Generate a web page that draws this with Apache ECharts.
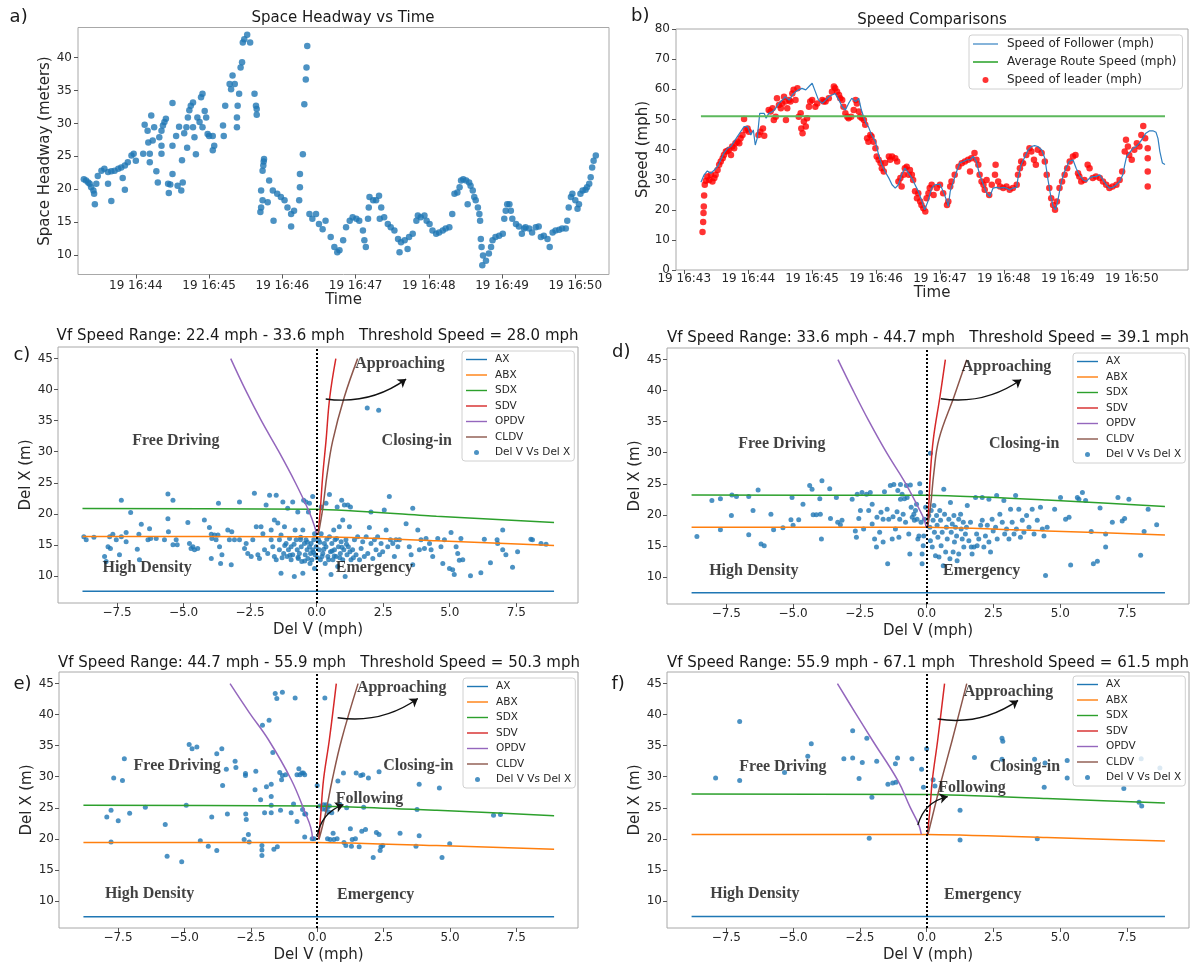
<!DOCTYPE html>
<html><head><meta charset="utf-8">
<script src="https://cdn.jsdelivr.net/npm/echarts@6/dist/echarts.min.js"></script>
<style>html,body{margin:0;padding:0;background:#fff}#chart{width:1198px;height:965px}</style>
</head><body><div id="chart"></div>
<script>
// ---------------- DATA ----------------
// Panel a: [minutes after 16:43, space headway (m)]
const aPts = [[0.29,21.5],[0.32,21.3],[0.35,21.0],[0.37,20.8],[0.39,20.3],[0.42,19.8],[0.43,19.3],[0.44,17.7],[0.46,20.8],[0.48,22.0],[0.53,22.8],[0.57,23.1],[0.62,20.8],[0.62,22.6],[0.665,22.7],[0.665,18.2],[0.71,22.8],[0.76,23.1],[0.80,23.3],[0.82,21.7],[0.85,19.9],[0.85,23.6],[0.89,24.1],[0.94,25.1],[0.97,25.4],[1.00,24.3],[1.10,25.4],[1.12,29.8],[1.16,28.9],[1.17,27.1],[1.19,25.4],[1.19,24.1],[1.21,31.2],[1.23,27.4],[1.25,29.4],[1.28,22.7],[1.30,21.0],[1.32,27.9],[1.35,26.6],[1.35,25.4],[1.35,28.9],[1.37,29.7],[1.39,30.2],[1.41,30.7],[1.44,20.8],[1.45,19.4],[1.47,20.7],[1.50,33.1],[1.50,26.6],[1.50,22.3],[1.55,28.1],[1.57,20.5],[1.59,29.5],[1.62,19.8],[1.63,24.4],[1.64,21.0],[1.66,28.5],[1.69,29.4],[1.70,26.3],[1.71,30.9],[1.73,32.0],[1.75,32.7],[1.78,33.2],[1.78,29.4],[1.80,27.9],[1.82,25.3],[1.84,30.9],[1.87,30.2],[1.89,34.0],[1.91,34.5],[1.91,29.4],[1.94,31.9],[1.96,30.9],[1.98,28.4],[2.00,28.1],[2.05,28.1],[2.05,25.9],[2.07,26.6],[2.19,29.7],[2.20,28.1],[2.22,32.7],[2.28,36.0],[2.30,35.2],[2.32,37.3],[2.35,36.0],[2.38,29.4],[2.38,30.9],[2.39,32.7],[2.41,34.5],[2.43,38.5],[2.45,39.3],[2.46,42.3],[2.48,42.8],[2.52,43.5],[2.56,42.3],[2.62,34.5],[2.64,32.7],[2.65,32.2],[2.65,31.3],[2.70,16.5],[2.71,17.2],[2.71,19.8],[2.73,22.8],[2.73,18.3],[2.74,23.6],[2.745,24.2],[2.75,24.6],[2.80,18.0],[2.82,21.3],[2.87,19.8],[2.88,15.2],[2.93,19.3],[2.98,18.8],[3.03,18.3],[3.07,17.2],[3.12,16.2],[3.12,14.3],[3.16,16.7],[3.23,18.3],[3.24,20.3],[3.24,22.3],[3.28,25.3],[3.30,32.9],[3.32,36.7],[3.33,38.5],[3.34,41.8],[3.37,16.2],[3.41,15.5],[3.46,16.2],[3.50,14.7],[3.55,13.9],[3.59,15.2],[3.66,12.7],[3.71,11.2],[3.75,10.4],[3.78,10.7],[3.83,12.2],[3.87,14.2],[3.92,15.2],[3.96,15.7],[4.01,15.5],[4.05,15.2],[4.10,13.7],[4.12,12.2],[4.14,11.2],[4.17,15.5],[4.18,17.2],[4.19,18.8],[4.24,18.3],[4.28,18.3],[4.32,19.0],[4.35,17.2],[4.33,15.5],[4.39,15.7],[4.44,14.7],[4.48,14.2],[4.53,13.7],[4.58,12.4],[4.62,11.9],[4.60,10.4],[4.67,12.2],[4.71,10.9],[4.73,12.7],[4.78,13.2],[4.83,15.2],[4.85,16.0],[4.89,15.7],[4.94,16.0],[4.97,15.2],[5.01,14.7],[5.05,13.7],[5.10,13.2],[5.14,13.4],[5.19,13.7],[5.23,14.0],[5.28,14.2],[5.32,16.2],[5.35,19.3],[5.39,19.5],[5.42,20.3],[5.44,21.3],[5.47,21.5],[5.51,21.3],[5.53,17.7],[5.55,21.0],[5.57,20.5],[5.60,19.8],[5.62,18.8],[5.64,18.3],[5.67,17.2],[5.69,16.2],[5.70,15.2],[5.71,12.4],[5.72,11.2],[5.74,9.9],[5.73,8.4],[5.78,9.1],[5.82,10.2],[5.85,11.2],[5.87,12.2],[5.91,12.7],[5.96,12.9],[6.01,13.2],[6.03,15.5],[6.05,16.7],[6.07,17.7],[6.10,17.7],[6.12,16.7],[6.14,15.5],[6.19,14.7],[6.23,14.3],[6.27,13.2],[6.30,14.0],[6.32,14.2],[6.37,14.0],[6.41,13.4],[6.46,14.2],[6.50,14.3],[6.53,12.7],[6.57,12.9],[6.62,12.4],[6.65,11.2],[6.69,13.4],[6.73,13.7],[6.78,13.8],[6.82,14.0],[6.87,14.0],[6.89,15.2],[6.91,17.2],[6.94,18.8],[6.96,19.3],[7.00,18.3],[7.03,17.0],[7.05,17.7],[7.07,19.3],[7.10,19.8],[7.14,19.9],[7.16,20.3],[7.19,20.8],[7.21,21.8],[7.23,23.3],[7.25,24.3],[7.28,25.1]];
const aXTicks = [1,2,3,4,5,6,7];
const aXTickLabels = ['19 16:44','19 16:45','19 16:46','19 16:47','19 16:48','19 16:49','19 16:50'];
const aYTicks = [10,15,20,25,30,35,40];

// Panel b: [minutes after 16:43, speed (mph)]
const bFollow = [[0.26,29.1],[0.31,31.6],[0.36,32.9],[0.415,32.1],[0.47,33.2],[0.52,34.3],[0.57,36.5],[0.62,38.8],[0.675,40.4],[0.73,41.0],[0.78,42.6],[0.83,44.3],[0.88,45.9],[0.935,47.6],[0.99,47.6],[1.04,44.8],[1.08,46.5],[1.11,41.5],[1.14,43.7],[1.18,52.0],[1.25,52.0],[1.28,50.4],[1.32,52.0],[1.38,52.6],[1.43,53.7],[1.48,55.3],[1.53,56.4],[1.58,57.5],[1.64,56.4],[1.69,58.1],[1.74,59.2],[1.79,59.8],[1.84,60.3],[1.90,59.8],[1.95,60.9],[2.00,62.0],[2.05,59.2],[2.10,56.4],[2.16,55.3],[2.21,56.4],[2.26,57.5],[2.31,58.1],[2.36,58.6],[2.42,56.4],[2.47,54.2],[2.52,53.1],[2.57,55.3],[2.62,57.0],[2.68,55.9],[2.73,57.0],[2.77,53.1],[2.80,53.7],[2.84,48.7],[2.88,47.6],[2.93,44.8],[2.99,42.6],[3.04,38.2],[3.09,34.9],[3.14,32.7],[3.20,30.5],[3.25,28.3],[3.30,27.2],[3.35,28.3],[3.40,31.6],[3.45,33.8],[3.51,32.1],[3.56,30.5],[3.61,28.3],[3.66,26.1],[3.71,23.3],[3.76,20.0],[3.81,22.7],[3.87,27.2],[3.92,28.3],[3.95,27.7],[4.00,28.5],[4.05,26.1],[4.11,22.7],[4.13,21.1],[4.16,26.1],[4.21,29.4],[4.26,32.7],[4.31,35.5],[4.37,36.0],[4.42,36.6],[4.47,36.6],[4.52,37.7],[4.57,36.0],[4.62,31.6],[4.68,28.3],[4.73,25.5],[4.78,24.4],[4.83,27.2],[4.88,27.4],[4.94,27.2],[4.99,27.4],[5.04,27.2],[5.09,26.6],[5.14,27.2],[5.20,27.4],[5.22,30.5],[5.27,34.9],[5.33,37.7],[5.38,39.9],[5.43,41.0],[5.48,41.3],[5.53,41.0],[5.59,39.9],[5.64,37.1],[5.69,29.9],[5.73,24.9],[5.77,21.1],[5.81,20.0],[5.85,23.8],[5.90,29.4],[5.95,32.7],[6.02,36.0],[6.08,36.6],[6.13,33.8],[6.18,31.6],[6.24,29.9],[6.29,29.4],[6.34,30.5],[6.39,31.0],[6.44,31.0],[6.50,31.6],[6.55,29.9],[6.60,28.3],[6.65,27.2],[6.70,27.4],[6.76,28.3],[6.81,29.4],[6.86,31.6],[6.89,34.9],[6.92,37.7],[6.96,38.8],[7.02,40.4],[7.07,41.0],[7.12,42.1],[7.17,43.7],[7.22,45.4],[7.28,46.2],[7.33,46.2],[7.38,45.7],[7.41,43.7],[7.44,39.3],[7.48,35.5],[7.52,35.0]];
const bLeader = [[0.285,12.6],[0.295,15.9],[0.30,18.9],[0.305,21.1],[0.31,24.7],[0.32,28.3],[0.337,29.6],[0.36,31.0],[0.39,29.9],[0.415,31.6],[0.44,29.4],[0.47,30.5],[0.49,31.6],[0.52,33.2],[0.545,34.9],[0.57,36.0],[0.60,37.1],[0.62,38.2],[0.65,39.3],[0.675,39.5],[0.70,39.9],[0.73,38.2],[0.75,41.0],[0.78,40.4],[0.80,42.1],[0.83,42.6],[0.86,42.1],[0.88,43.7],[0.91,44.8],[0.935,50.1],[0.96,46.5],[0.99,47.0],[1.01,45.9],[1.16,44.8],[1.19,45.9],[1.23,47.0],[1.25,44.6],[1.32,53.1],[1.35,52.6],[1.38,53.7],[1.40,49.8],[1.43,50.9],[1.45,57.0],[1.48,54.8],[1.51,53.7],[1.53,55.3],[1.56,57.5],[1.58,55.9],[1.59,49.8],[1.61,53.7],[1.64,56.4],[1.66,55.9],[1.69,58.6],[1.71,59.8],[1.74,56.4],[1.77,60.3],[1.79,50.9],[1.82,52.0],[1.83,47.0],[1.85,45.4],[1.87,49.3],[1.90,47.6],[1.92,50.4],[1.95,54.2],[1.97,55.9],[2.00,56.4],[2.05,54.2],[2.08,55.3],[2.16,56.4],[2.18,55.9],[2.21,55.9],[2.26,57.0],[2.31,59.2],[2.34,60.9],[2.36,60.3],[2.39,59.2],[2.42,58.1],[2.44,57.0],[2.47,56.4],[2.49,54.2],[2.52,52.0],[2.55,50.9],[2.57,50.4],[2.61,50.9],[2.65,53.1],[2.68,56.4],[2.70,55.3],[2.73,52.6],[2.75,50.9],[2.78,50.4],[2.81,49.8],[2.83,48.2],[2.86,43.7],[2.88,42.6],[2.91,44.8],[2.93,44.3],[2.96,42.6],[2.99,40.4],[3.01,37.7],[3.04,36.6],[3.07,35.5],[3.09,33.8],[3.12,32.7],[3.14,35.5],[3.20,37.7],[3.22,36.6],[3.25,37.7],[3.30,37.1],[3.33,36.0],[3.35,29.4],[3.38,30.5],[3.40,27.7],[3.43,31.6],[3.45,33.8],[3.48,34.3],[3.51,31.6],[3.53,33.2],[3.56,31.6],[3.58,29.9],[3.61,26.1],[3.64,23.8],[3.66,25.5],[3.69,22.7],[3.71,21.6],[3.74,20.5],[3.77,19.4],[3.79,23.8],[3.82,25.5],[3.84,27.2],[3.87,28.3],[3.90,24.9],[3.95,27.2],[4.00,28.3],[4.05,25.5],[4.11,21.6],[4.13,22.7],[4.16,27.7],[4.18,29.4],[4.23,31.6],[4.29,34.3],[4.34,35.4],[4.39,36.0],[4.44,36.6],[4.47,32.7],[4.49,37.1],[4.54,38.8],[4.57,36.6],[4.60,34.9],[4.62,31.6],[4.65,29.4],[4.68,28.3],[4.70,26.6],[4.73,29.9],[4.77,24.9],[4.81,28.3],[4.86,31.6],[4.87,34.9],[4.91,29.4],[4.94,27.7],[4.99,27.2],[5.04,27.7],[5.09,26.6],[5.14,27.2],[5.20,28.3],[5.22,31.6],[5.25,33.8],[5.27,36.0],[5.30,35.4],[5.35,38.2],[5.40,40.4],[5.43,39.3],[5.47,36.6],[5.50,34.9],[5.53,39.9],[5.59,38.8],[5.64,36.0],[5.67,31.6],[5.71,27.2],[5.74,23.8],[5.77,21.6],[5.80,20.0],[5.83,22.7],[5.87,27.2],[5.91,29.4],[5.95,31.6],[5.99,33.8],[6.03,36.0],[6.08,37.7],[6.12,38.2],[6.16,32.1],[6.18,31.0],[6.21,29.4],[6.26,29.9],[6.31,34.9],[6.34,33.8],[6.39,30.5],[6.44,31.0],[6.50,30.5],[6.55,29.4],[6.60,28.3],[6.65,27.2],[6.70,27.7],[6.76,28.3],[6.81,29.9],[6.85,32.7],[6.89,39.3],[6.91,43.2],[6.94,41.0],[6.96,38.2],[7.00,36.6],[7.04,39.9],[7.08,42.1],[7.12,41.0],[7.15,44.8],[7.18,47.8],[7.21,43.7],[7.25,40.4],[7.25,37.1],[7.25,32.7],[7.25,27.7]];
const bAvg = [[0.26,51.0],[7.52,51.0]];
const bXTicks = [0,1,2,3,4,5,6,7];
const bXTickLabels = ['19 16:43','19 16:44','19 16:45','19 16:46','19 16:47','19 16:48','19 16:49','19 16:50'];

// Panels c-f: Del V (mph) vs Del X (m)
const cPts = [[-8.75,16.3],[-8.66,15.8],[-8.37,16.2],[-7.97,13.1],[-7.91,12.3],[-7.78,16.3],[-7.84,14.7],[-7.75,14.4],[-7.66,16.7],[-7.53,15.8],[-7.41,13.4],[-7.34,22.2],[-7.34,16.3],[-7.16,17.0],[-7.16,15.5],[-6.99,20.2],[-6.74,14.3],[-6.68,16.7],[-6.66,12.6],[-6.59,18.3],[-6.34,15.8],[-6.28,17.6],[-6.24,16.0],[-6.03,16.0],[-5.72,15.8],[-5.59,23.2],[-5.59,19.2],[-5.57,17.1],[-5.40,22.2],[-5.40,15.0],[-5.28,15.8],[-5.24,15.0],[-4.84,18.6],[-4.78,15.2],[-4.72,14.4],[-4.65,14.7],[-4.59,14.2],[-4.47,14.4],[-4.22,19.0],[-4.03,17.8],[-3.96,16.7],[-3.94,16.0],[-3.96,12.8],[-3.84,16.6],[-3.78,15.8],[-3.71,16.6],[-3.69,21.7],[-3.65,14.7],[-3.61,12.0],[-3.56,13.4],[-3.34,17.4],[-3.28,15.8],[-3.21,11.8],[-3.19,17.1],[-3.09,15.8],[-2.90,21.9],[-2.90,15.8],[-2.71,14.4],[-2.65,15.2],[-2.59,13.6],[-2.46,13.1],[-2.40,15.8],[-2.34,23.3],[-2.27,17.9],[-2.21,13.4],[-2.15,12.8],[-2.09,17.9],[-2.02,16.8],[-1.96,14.2],[-1.90,21.4],[-1.84,13.6],[-1.77,23.0],[-1.71,17.4],[-1.71,15.8],[-1.65,14.7],[-1.59,19.0],[-1.59,13.1],[-1.52,23.0],[-1.52,12.6],[-1.46,18.5],[-1.40,15.8],[-1.40,14.2],[-1.34,10.4],[-1.34,16.6],[-1.30,12.9],[-1.27,21.9],[-1.24,13.6],[-1.21,17.9],[-1.20,14.9],[-1.15,15.2],[-1.11,13.1],[-1.09,20.9],[-1.06,14.2],[-1.02,16.0],[-1.00,13.3],[-0.96,12.6],[-0.96,14.7],[-0.90,21.9],[-0.90,13.4],[-0.85,15.1],[-0.84,9.9],[-0.81,17.4],[-0.77,15.8],[-0.73,14.2],[-0.71,20.3],[-0.70,13.0],[-0.69,12.8],[-0.65,13.6],[-0.61,15.8],[-0.60,16.2],[-0.58,14.7],[-0.56,12.3],[-0.52,10.4],[-0.52,17.4],[-0.49,22.2],[-0.46,15.2],[-0.45,12.4],[-0.43,13.4],[-0.40,21.9],[-0.40,15.8],[-0.36,14.2],[-0.35,15.4],[-0.33,12.8],[-0.31,20.3],[-0.27,21.7],[-0.27,14.7],[-0.25,12.0],[-0.23,13.6],[-0.21,15.2],[-0.18,12.6],[-0.15,22.8],[-0.15,14.2],[-0.12,13.8],[-0.11,15.8],[-0.08,11.2],[-0.08,16.8],[-0.06,13.4],[-0.02,14.7],[0.02,12.9],[0.07,15.8],[0.10,14.2],[0.12,15.4],[0.14,12.6],[0.17,21.1],[0.17,16.8],[0.20,13.1],[0.23,13.6],[0.27,14.3],[0.29,15.2],[0.32,12.0],[0.35,21.7],[0.35,14.7],[0.38,15.9],[0.42,13.1],[0.45,12.6],[0.48,23.1],[0.48,16.3],[0.52,13.9],[0.54,10.2],[0.57,15.2],[0.58,14.0],[0.61,12.6],[0.64,17.4],[0.66,13.2],[0.67,14.2],[0.69,15.8],[0.73,13.1],[0.75,16.0],[0.77,21.1],[0.79,11.5],[0.82,14.7],[0.85,17.9],[0.87,12.9],[0.89,13.6],[0.92,15.5],[0.94,22.2],[0.95,14.6],[0.98,19.0],[0.98,12.6],[1.02,14.2],[1.04,21.4],[1.07,9.9],[1.10,15.8],[1.12,15.1],[1.14,13.4],[1.17,21.4],[1.19,14.7],[1.23,17.9],[1.25,13.9],[1.27,21.1],[1.29,12.6],[1.35,14.2],[1.38,12.9],[1.42,15.8],[1.48,13.4],[1.54,16.3],[1.61,12.6],[1.67,14.4],[1.73,15.5],[1.79,13.1],[1.86,16.3],[1.90,37.05],[1.92,13.6],[1.98,17.8],[2.04,20.3],[2.04,15.2],[2.11,12.8],[2.17,15.8],[2.23,14.2],[2.29,16.3],[2.33,36.7],[2.36,13.4],[2.42,15.2],[2.48,13.9],[2.54,20.6],[2.61,17.4],[2.67,14.7],[2.73,22.8],[2.77,15.8],[2.86,15.2],[2.92,13.1],[2.98,15.8],[3.05,14.7],[3.11,15.8],[3.36,18.4],[3.48,14.7],[3.55,13.4],[3.61,11.8],[3.61,20.9],[3.80,17.4],[3.86,14.2],[3.92,15.8],[4.05,14.4],[4.11,16.0],[4.24,15.2],[4.30,14.2],[4.36,13.1],[4.55,16.0],[4.67,14.7],[4.74,12.0],[4.80,15.8],[4.99,11.2],[5.05,17.0],[5.11,11.0],[5.17,10.2],[5.24,14.7],[5.30,13.6],[5.36,12.5],[5.42,16.0],[5.49,12.6],[5.78,10.0],[6.17,10.5],[6.30,15.9],[6.53,12.1],[6.78,15.8],[6.80,15.2],[6.99,17.4],[6.99,14.2],[7.11,13.4],[7.36,11.4],[7.55,13.9],[8.05,15.9],[8.11,15.8],[8.43,15.2],[8.62,15.1]];
const dPts = [[-8.60,16.5],[-8.04,22.3],[-7.72,22.6],[-7.72,17.6],[-7.31,19.9],[-7.29,23.2],[-7.12,22.96],[-6.66,22.96],[-6.66,16.8],[-6.50,20.7],[-6.31,24.0],[-6.20,15.3],[-6.08,15.0],[-5.83,20.1],[-5.73,17.6],[-5.38,17.9],[-5.08,19.2],[-5.04,22.8],[-5.00,18.3],[-4.79,19.2],[-4.63,21.7],[-4.38,24.7],[-4.29,24.1],[-4.25,20.0],[-4.13,20.0],[-3.98,20.1],[-3.94,16.1],[-4.00,22.6],[-3.92,25.5],[-3.63,24.2],[-3.60,19.4],[-3.38,22.8],[-3.33,18.8],[-3.23,18.4],[-3.17,19.1],[-2.79,22.5],[-2.67,17.4],[-2.63,16.4],[-2.60,23.3],[-2.54,19.4],[-2.48,20.7],[-2.42,23.6],[-2.36,17.7],[-2.25,23.3],[-2.17,20.7],[-2.11,23.6],[-2.04,21.7],[-2.04,18.5],[-1.95,16.1],[-1.88,14.8],[-1.86,19.6],[-1.76,17.2],[-1.71,20.4],[-1.63,19.3],[-1.63,15.6],[-1.58,23.7],[-1.48,20.9],[-1.46,12.1],[-1.42,19.3],[-1.36,24.7],[-1.29,16.1],[-1.26,19.7],[-1.23,24.9],[-1.17,17.7],[-1.11,20.5],[-1.08,23.9],[-1.04,16.4],[-1.01,19.3],[-0.98,24.9],[-0.98,22.5],[-0.92,23.3],[-0.88,20.1],[-0.83,22.6],[-0.79,18.8],[-0.76,24.7],[-0.73,22.8],[-0.67,16.9],[-0.63,13.7],[-0.61,24.8],[-0.58,21.2],[-0.54,19.6],[-0.48,20.1],[-0.46,19.1],[-0.42,20.7],[-0.38,21.7],[-0.36,19.3],[-0.33,16.1],[-0.29,16.6],[-0.26,25.0],[-0.23,23.6],[-0.21,18.8],[-0.17,13.7],[-0.17,12.1],[-0.13,15.0],[-0.11,16.6],[-0.08,19.3],[-0.04,21.2],[0.14,29.9],[0.08,19.9],[0.12,18.0],[0.14,15.8],[0.17,20.7],[0.21,14.8],[0.24,19.1],[0.27,21.5],[0.29,17.2],[0.33,13.4],[0.37,19.9],[0.39,18.3],[0.42,16.4],[0.46,13.2],[0.49,20.7],[0.52,19.1],[0.54,15.0],[0.58,17.2],[0.62,11.8],[0.64,24.1],[0.67,20.1],[0.71,14.0],[0.74,18.0],[0.77,16.1],[0.83,19.3],[0.87,12.9],[0.89,22.0],[0.92,17.2],[0.96,18.5],[0.99,14.0],[1.02,19.9],[1.04,15.6],[1.08,18.0],[1.12,16.6],[1.14,12.6],[1.20,13.7],[1.20,19.3],[1.27,20.1],[1.29,17.7],[1.33,16.1],[1.37,18.8],[1.39,14.8],[1.45,16.9],[1.49,18.0],[1.52,21.5],[1.58,15.8],[1.64,18.8],[1.67,14.8],[1.70,13.7],[1.77,14.8],[1.83,22.8],[1.87,16.9],[1.89,15.0],[1.95,16.1],[2.02,18.3],[2.08,19.1],[2.08,22.8],[2.14,14.8],[2.20,16.6],[2.27,18.3],[2.33,22.5],[2.33,15.6],[2.39,14.0],[2.45,19.3],[2.49,17.4],[2.58,18.0],[2.62,23.1],[2.64,16.1],[2.74,20.1],[2.83,18.8],[2.89,22.3],[2.92,16.9],[2.99,17.7],[3.08,16.1],[3.14,20.9],[3.20,18.8],[3.27,16.9],[3.33,23.1],[3.36,17.7],[3.45,20.9],[3.51,16.4],[3.58,19.1],[3.64,17.2],[3.74,19.9],[3.83,18.0],[3.95,20.9],[4.02,16.9],[4.14,19.1],[4.26,21.2],[4.33,17.7],[4.39,16.6],[4.45,10.2],[4.51,18.0],[4.79,20.9],[5.01,22.8],[5.20,19.3],[5.33,19.6],[5.39,11.9],[5.64,22.8],[5.70,22.5],[5.83,23.6],[5.95,22.3],[6.16,17.3],[6.24,12.1],[6.39,12.5],[6.49,21.1],[6.70,16.9],[6.70,14.8],[6.95,18.8],[7.16,22.8],[7.32,19.0],[7.41,19.4],[7.57,22.5],[8.01,13.5],[8.14,17.3],[8.29,20.9],[8.61,18.4]];
const ePts = [[-7.92,23.5],[-7.76,24.6],[-7.76,19.5],[-7.66,29.8],[-7.49,22.9],[-7.33,29.4],[-7.26,32.9],[-7.06,24.1],[-6.47,25.1],[-5.72,22.3],[-5.65,17.2],[-5.10,16.3],[-4.93,25.4],[-4.82,35.2],[-4.71,34.5],[-4.53,34.8],[-4.40,19.7],[-4.10,18.8],[-3.97,23.5],[-3.78,33.7],[-3.78,18.1],[-3.59,34.5],[-3.56,28.6],[-3.42,31.2],[-3.38,24.0],[-3.09,32.5],[-3.06,31.5],[-2.75,19.9],[-2.70,30.5],[-2.70,30.2],[-2.69,24.0],[-2.67,23.1],[-2.59,20.7],[-2.56,19.5],[-2.34,27.9],[-2.31,30.9],[-2.13,26.3],[-2.08,18.9],[-2.08,18.2],[-2.08,17.3],[-2.06,38.3],[-1.98,24.2],[-1.91,28.4],[-1.81,39.1],[-1.73,28.8],[-1.73,26.8],[-1.73,25.4],[-1.73,24.2],[-1.67,33.9],[-1.63,18.3],[-1.58,43.4],[-1.52,42.6],[-1.50,18.7],[-1.41,30.7],[-1.38,24.6],[-1.34,29.5],[-1.31,43.6],[-1.31,30.2],[-1.19,30.3],[-0.98,24.2],[-0.89,25.6],[-0.83,42.7],[-0.76,22.8],[-0.76,30.3],[-0.69,31.3],[-0.65,30.3],[-0.58,30.6],[-0.55,24.7],[-0.52,30.6],[-0.47,30.3],[-0.47,24.0],[-0.47,20.3],[-0.43,24.0],[-0.19,20.0],[-0.12,20.0],[0.0,28.6],[0.10,25.3],[0.20,24.8],[0.24,25.5],[0.29,42.7],[0.32,24.7],[0.34,25.5],[0.39,20.0],[0.39,25.1],[0.43,24.3],[0.46,25.3],[0.49,19.9],[0.55,24.2],[0.60,20.9],[0.63,19.9],[0.75,20.0],[0.78,29.3],[0.86,25.5],[0.99,30.6],[1.01,19.4],[1.08,18.9],[1.11,25.0],[1.25,21.6],[1.29,18.8],[1.32,19.9],[1.44,20.0],[1.47,30.6],[1.58,18.7],[1.64,30.2],[1.68,21.2],[1.72,30.3],[1.75,25.1],[1.82,21.5],[1.93,29.8],[2.11,17.0],[2.23,21.0],[2.33,30.8],[2.33,20.7],[2.37,18.1],[2.40,18.7],[2.47,18.9],[3.12,20.9],[3.72,18.8],[3.76,24.7],[3.84,28.8],[3.84,20.5],[4.60,28.2],[4.70,17.0],[4.99,19.2],[6.64,23.8],[6.90,23.9]];
const fPts = [[-7.90,29.8],[-7.0,38.9],[-7.0,29.4],[-5.32,30.7],[-4.45,33.3],[-4.32,35.3],[-3.10,32.9],[-2.77,37.4],[-2.77,33.0],[-2.53,29.7],[-2.41,32.3],[-2.24,36.2],[-2.15,20.1],[-2.05,26.7],[-1.87,32.5],[-1.45,28.8],[-1.27,29.0],[-1.17,32.1],[-1.15,29.1],[-1.09,33.0],[-0.55,32.9],[-0.19,31.2],[-0.12,28.3],[0.0,34.5],[0.24,29.5],[0.31,28.5],[1.25,24.6],[1.25,19.8],[1.79,33.1],[2.82,36.2],[2.85,35.7],[2.82,32.8],[4.04,32.8],[4.14,20.0],[4.40,28.3],[4.43,32.2],[5.26,32.6],[5.26,29.8],[7.38,28.1],[7.95,25.9],[8.03,32.9],[8.05,25.3],[8.73,31.4]];

// Model threshold curves per panel: [Del V, Del X]
const cAX = [[-8.8,7.5],[8.92,7.5]];
const cABX = [[-8.8,16.35],[0,16.3],[4.5,15.65],[8.92,14.9]];
const cSDX = [[-8.8,20.85],[0,20.75],[4.5,19.6],[8.92,18.6]];
const cSDV = [[0.05,16.6],[0.14,20.9],[0.23,26.3],[0.35,31.7],[0.49,38.7],[0.72,45]];
const cOPDV = [[0,16.6],[-0.08,18.0],[-0.3,20.5],[-0.8,25],[-1.42,30],[-2.08,35],[-2.68,40],[-3.23,45]];
const cCLDV = [[0.06,16.6],[0.23,20.9],[0.39,26.3],[0.6,31.7],[1.03,38.7],[1.54,45]];
const dAX = [[-8.8,7.45],[8.92,7.45]];
const dABX = [[-8.8,18.0],[0,18.0],[4.5,17.4],[8.92,16.75]];
const dSDX = [[-8.8,23.17],[0,23.15],[4.5,22.4],[8.92,21.35]];
const dSDV = [[0.03,18],[0.08,21.5],[0.14,26.8],[0.25,32.2],[0.5,39.1],[0.7,45]];
const dOPDV = [[-0.02,18],[-0.1,19.3],[-0.35,21.5],[-0.85,25.5],[-1.5,30],[-2.15,35],[-2.75,40],[-3.32,45]];
const dCLDV = [[0.04,18],[0.15,21.5],[0.27,26.8],[0.46,32.2],[1.03,39.1],[1.5,45]];
const eAX = [[-8.8,7.45],[8.92,7.45]];
const eABX = [[-8.8,19.4],[0,19.4],[4.5,18.9],[8.92,18.3]];
const eSDX = [[-8.8,25.4],[0,25.3],[4.5,24.6],[8.92,23.7]];
const eSDV = [[0.06,19.9],[0.14,24.2],[0.24,29.55],[0.46,36],[0.72,45]];
const eOPDV = [[-0.17,19.9],[-0.24,21.8],[-0.45,24.2],[-0.98,29.55],[-1.84,36.0],[-2.55,40.3],[-3.28,45]];
const eCLDV = [[0.07,19.9],[0.32,24.2],[0.57,29.55],[0.92,36],[1.54,45]];
const fAX = [[-8.8,7.48],[8.92,7.48]];
const fABX = [[-8.8,20.7],[0,20.7],[4.5,20.2],[8.92,19.65]];
const fSDX = [[-8.8,27.2],[0,27.15],[4.5,26.5],[8.92,25.75]];
const fSDV = [[0.03,20.7],[0.13,25.1],[0.21,29.4],[0.41,35.8],[0.67,45]];
const fOPDV = [[-0.2,20.7],[-0.3,22.3],[-0.62,25.1],[-1.08,29.4],[-2.02,35.8],[-2.7,40.5],[-3.34,45]];
const fCLDV = [[0.05,20.7],[0.3,25.1],[0.55,29.4],[0.95,35.8],[1.5,45]];

// Region annotations [text, Del V, Del X]
const cRegions = [['Free Driving',-5.29,31.8],['Closing-in',3.76,31.8],['High Density',-6.37,11.24],['Emergency',2.17,11.24],['Approaching',3.13,44.2]];
const dRegions = [['Free Driving',-5.42,31.5],['Closing-in',3.65,31.5],['High Density',-6.47,10.9],['Emergency',2.06,10.9],['Approaching',2.99,43.9]];
const eRegions = [['Free Driving',-5.27,31.8],['Closing-in',3.81,31.8],['Following',1.97,26.4],['High Density',-6.31,11.1],['Emergency',2.2,11.0],['Approaching',3.18,44.35]];
const fRegions = [['Free Driving',-5.38,31.6],['Closing-in',3.68,31.6],['Following',1.70,28.2],['High Density',-6.43,11.1],['Emergency',2.1,11.0],['Approaching',3.06,43.7]];
// Arrows [from, to]
const cApproach = [[0.34,38.5],[3.36,41.7]];
const dApproach = [[0.53,38.7],[3.54,41.8]];
const eApproach = [[0.77,39.5],[3.79,42.6]];
const fApproach = [[0.41,39.3],[3.42,42.3]];
const eFollow = [[0.0,20.3],[0.99,25.5]];
const fFollow = [[-0.33,22.2],[0.79,26.8]];

const speedRanges = [['22.4','33.6','28.0'],['33.6','44.7','39.1'],['44.7','55.9','50.3'],['55.9','67.1','61.5']];
const dvTicks = [-7.5,-5,-2.5,0,2.5,5,7.5];
const dvTickLabels = ['\u22127.5','\u22125.0','\u22122.5','0.0','2.5','5.0','7.5'];
const dxTicks = [10,15,20,25,30,35,40,45];
const legendNames = ['AX','ABX','SDX','SDV','OPDV','CLDV','Del V Vs Del X'];

// ---------------- CHART ----------------
const FONT = '"DejaVu Sans", sans-serif';
const SERIF = '"Liberation Serif", "Times New Roman", serif';
const TXT = '#262626';
const COL = {blue:'#1f77b4', orange:'#ff7f0e', green:'#2ca02c', red:'#d62728', purple:'#9467bd', brown:'#8c564b'};
const LINE_ICON = 'path://M0 0H30V2H0Z';

const grids = [
  {left:78, top:27.5, width:531, height:247},
  {left:676, top:29, width:512, height:241},
  {left:58, top:347, width:520, height:256},
  {left:667, top:348, width:522, height:256},
  {left:59, top:672, width:519, height:256},
  {left:667, top:672, width:522, height:256}
].map(g => Object.assign(g, {show:true, borderColor:'#a8a8a8', borderWidth:1, backgroundColor:'#fff', containLabel:false, outerBoundsMode:'none'}));

function axis(gi, o) {
  return Object.assign({
    type:'value', gridIndex:gi, scale:false,
    splitLine:{show:false},
    axisLine:{show:false, onZero:false},
    axisTick:{show:true, length:4, lineStyle:{color:'#555', width:1}},
    axisLabel:{color:TXT, fontSize:12, fontFamily:FONT, margin:6},
    nameLocation:'middle',
    nameTextStyle:{color:TXT, fontSize:15, fontFamily:FONT}
  }, o);
}
function lookup(ticks, labels) { return v => { const i = ticks.findIndex(t => Math.abs(t - v) < 1e-6); return i >= 0 ? labels[i] : ''; }; }

const xAxes = [], yAxes = [];
xAxes.push(axis(0, {min:0.21, max:7.46, name:'Time', nameGap:16,
  axisLabel:{color:TXT, fontSize:12, fontFamily:FONT, margin:5, customValues:aXTicks, formatter:lookup(aXTicks, aXTickLabels)},
  axisTick:{show:true, length:4, lineStyle:{color:'#555'}, customValues:aXTicks}}));
yAxes.push(axis(0, {min:7.0, max:44.6, name:'Space Headway (meters)', nameGap:22,
  axisLabel:{color:TXT, fontSize:12, fontFamily:FONT, margin:6, customValues:aYTicks},
  axisTick:{show:true, length:4, lineStyle:{color:'#555'}, customValues:aYTicks}}));
xAxes.push(axis(1, {min:-0.13, max:7.88, name:'Time', nameGap:16,
  axisLabel:{color:TXT, fontSize:12, fontFamily:FONT, margin:3, customValues:bXTicks, formatter:lookup(bXTicks, bXTickLabels)},
  axisTick:{show:true, length:4, lineStyle:{color:'#555'}, customValues:bXTicks}}));
yAxes.push(axis(1, {min:0, max:80, interval:10, name:'Speed (mph)', nameGap:20}));
for (let i = 0; i < 4; i++) {
  const gi = i + 2;
  xAxes.push(axis(gi, {min:-9.72, max:9.82, name:'Del V (mph)', nameGap:20,
    axisLabel:{color:TXT, fontSize:12, fontFamily:FONT, margin:4, customValues:dvTicks, formatter:lookup(dvTicks, dvTickLabels)},
    axisTick:{show:true, length:4, lineStyle:{color:'#555'}, customValues:dvTicks}}));
  yAxes.push(axis(gi, {min:5.625, max:46.875, name:'Del X (m)', nameGap:22,
    axisLabel:{color:TXT, fontSize:12, fontFamily:FONT, margin:5, customValues:dxTicks},
    axisTick:{show:true, length:4, lineStyle:{color:'#555'}, customValues:dxTicks}}));
}

const series = [];
series.push({type:'scatter', name:'headway', xAxisIndex:0, yAxisIndex:0, data:aPts, symbolSize:6.5, itemStyle:{color:COL.blue}, z:2, silent:true});
series.push({type:'scatter', name:'Speed of leader (mph)', xAxisIndex:1, yAxisIndex:1, data:bLeader, symbolSize:6.5, itemStyle:{color:'#ff0000'}, z:2, silent:true});
series.push({type:'line', name:'Speed of Follower (mph)', xAxisIndex:1, yAxisIndex:1, data:bFollow, symbol:'none', showSymbol:false, lineStyle:{color:'#2f7fc0', width:1.2}, itemStyle:{color:'#2f7fc0'}, z:3, silent:true});
series.push({type:'line', name:'Average Route Speed (mph)', xAxisIndex:1, yAxisIndex:1, data:bAvg, symbol:'none', showSymbol:false, lineStyle:{color:'#5cb85c', width:2}, itemStyle:{color:'#5cb85c'}, z:3, silent:true});

const panels = [
  {pts:cPts, ax:cAX, abx:cABX, sdx:cSDX, sdv:cSDV, opdv:cOPDV, cldv:cCLDV, regions:cRegions, approach:cApproach, follow:null},
  {pts:dPts, ax:dAX, abx:dABX, sdx:dSDX, sdv:dSDV, opdv:dOPDV, cldv:dCLDV, regions:dRegions, approach:dApproach, follow:null},
  {pts:ePts, ax:eAX, abx:eABX, sdx:eSDX, sdv:eSDV, opdv:eOPDV, cldv:eCLDV, regions:eRegions, approach:eApproach, follow:eFollow},
  {pts:fPts, ax:fAX, abx:fABX, sdx:fSDX, sdv:fSDV, opdv:fOPDV, cldv:fCLDV, regions:fRegions, approach:fApproach, follow:fFollow}
];
panels.forEach((p, i) => {
  const gi = i + 2;
  const base = {xAxisIndex:gi, yAxisIndex:gi, silent:true};
  series.push(Object.assign({type:'scatter', name:'Del V Vs Del X', data:p.pts, symbolSize:5, itemStyle:{color:COL.blue}, z:2,
    markLine:{silent:true, symbol:'none', label:{show:false}, lineStyle:{type:'dotted', color:'#000', width:2}, data:[{xAxis:0}], z:4}}, base));
  const ln = (name, data, color, smooth) => Object.assign({type:'line', name, data, symbol:'none', showSymbol:false, smooth:smooth||false,
    lineStyle:{color, width:1.5}, itemStyle:{color}, z:3}, base);
  series.push(ln('AX', p.ax, COL.blue));
  series.push(ln('ABX', p.abx, COL.orange, 0.2));
  series.push(ln('SDX', p.sdx, COL.green, 0.2));
  series.push(ln('SDV', p.sdv, COL.red, 0.4));
  series.push(ln('OPDV', p.opdv, COL.purple, 0.4));
  series.push(ln('CLDV', p.cldv, COL.brown, 0.4));
  series.push(Object.assign({type:'scatter', name:'regions', data:p.regions.map(r => ({name:r[0], value:[r[1], r[2]]})), symbolSize:1,
    itemStyle:{color:'rgba(0,0,0,0)'}, z:6,
    label:{show:true, position:'inside', formatter:'{b}', fontFamily:SERIF, fontWeight:'bold', fontSize:16, color:'#111'}}, base));
  const arrows = [{coords:p.approach, lineStyle:{curveness:-0.2}}];
  if (p.follow) arrows.push({coords:p.follow, lineStyle:{curveness:0.3}});
  series.push(Object.assign({type:'lines', name:'arrows', coordinateSystem:'cartesian2d', data:arrows, symbol:['none','arrow'], symbolSize:8,
    lineStyle:{color:'#111', width:1.4, opacity:1}, z:7}, base));
});

const legendBox = {orient:'vertical', selectedMode:false, backgroundColor:'rgba(255,255,255,0.8)', borderColor:'#d0d0d0', borderWidth:1, borderRadius:3};
const legendPos = [[462,351],[1073,353],[463,678],[1073,676]];
const legends = [Object.assign({}, legendBox, {left:969, top:35,
  data:[{name:'Speed of Follower (mph)', icon:'path://M0 0H30V1.4H0Z'},{name:'Average Route Speed (mph)', icon:'path://M0 0H30V2.4H0Z'},{name:'Speed of leader (mph)', icon:'circle'}],
  itemWidth:25, itemHeight:6, itemGap:6, padding:[3,6,3,4], textStyle:{fontSize:12, fontFamily:FONT, color:TXT, padding:[0,0,0,4]}})];
legendPos.forEach(lp => legends.push(Object.assign({}, legendBox, {left:lp[0], top:lp[1],
  data:legendNames.map(n => ({name:n, icon: n === 'Del V Vs Del X' ? 'circle' : LINE_ICON})),
  itemWidth:21, itemHeight:5, itemGap:4.5, padding:[3,4,3,4], textStyle:{fontSize:10.5, fontFamily:FONT, color:TXT, padding:[0,0,0,3]}})));

const texts = [
  ['a)', 9.6, 17.5, 18, 'left'], ['b)', 631, 16, 18, 'left'], ['c)', 13.4, 355.8, 18, 'left'],
  ['d)', 612, 352.5, 18, 'left'], ['e)', 13.4, 684.8, 18, 'left'], ['f)', 611.5, 684.2, 18, 'left'],
  ['Space Headway vs Time', 343, 18.3, 15, 'center'], ['Speed Comparisons', 932, 20, 15, 'center']
];
const titleCenters = [[317.6,336],[928,338.3],[319,663.3],[928,662.7]];
speedRanges.forEach((s, i) => texts.push(['Vf Speed Range: ' + s[0] + ' mph - ' + s[1] + ' mph   Threshold Speed = ' + s[2] + ' mph', titleCenters[i][0], titleCenters[i][1], 15, 'center']));
const graphic = texts.map(t => ({type:'text', x:t[1], y:t[2], silent:true, z:100,
  style:{text:t[0], fill:'#1a1a1a', font:t[3] + 'px ' + FONT, align:t[4], textAlign:t[4], verticalAlign:'middle', textVerticalAlign:'middle'}}));

const chart = echarts.init(document.getElementById('chart'), null, {renderer:'canvas', width:1198, height:965});
chart.setOption({
  animation:false, backgroundColor:'#fff',
  grid:grids, xAxis:xAxes, yAxis:yAxes, series, legend:legends, graphic
});
</script></body></html>
